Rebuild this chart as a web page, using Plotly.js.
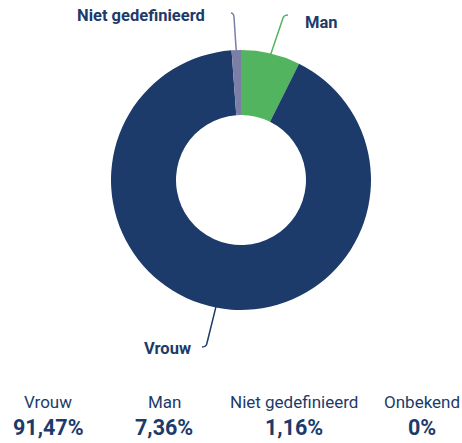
<!DOCTYPE html>
<html><head><meta charset="utf-8">
<script src="https://cdn.plot.ly/plotly-3.0.1.min.js"></script>
<style>html,body{margin:0;padding:0;background:#fff}#c{width:462px;height:443px}</style>
</head><body><div id="c"></div>
<script>
const categories = ["Man", "Vrouw", "Niet gedefinieerd", "Onbekend"];
const values = [7.36, 91.47, 1.16, 0];
const colors = ["#52b45f", "#1c3b6a", "#7b7fa6", "#cccccc"];
const summaryOrder = ["Vrouw", "Man", "Niet gedefinieerd", "Onbekend"];
const summaryText = ["91,47%", "7,36%", "1,16%", "0%"];

const W = 462, H = 443;
const FONT = "Roboto, sans-serif";
const NAVY = "#1c3b6a";
const cx = 241, cy = 180, R = 130;
const px = x => x / W, py = y => 1 - y / H;

const total = values.reduce((a, b) => a + b, 0);
function midAngle(i) {
  let s = 0; for (let k = 0; k < i; k++) s += values[k];
  return (s + values[i] / 2) / total * 2 * Math.PI;
}
function edge(i, r) {
  const a = midAngle(i);
  return [cx + r * Math.sin(a), cy - r * Math.cos(a)];
}

const leaders = [
  {i: 0, mid: [283, 18], end: [288, 15], lx: 303, ly: 22, anchor: "left"},
  {i: 2, mid: [234, 17], end: [231, 13], lx: 207, ly: 15, anchor: "right"},
  {i: 1, mid: [207, 343], end: [202, 347], lx: 193, ly: 348, anchor: "right"}
];
const shapes = [], annotations = [];
leaders.forEach(L => {
  const p = edge(L.i, R - 2);
  const col = colors[L.i];
  shapes.push({
    type: "path", xref: "paper", yref: "paper",
    path: `M ${px(p[0])},${py(p[1])} L ${px(L.mid[0])},${py(L.mid[1])} Q ${px(L.mid[0] + (L.anchor==="left"?1:-0.5))},${py(L.end[1])} ${px(L.end[0])},${py(L.end[1])}`,
    line: {color: col, width: 1.5}
  });
  annotations.push({
    text: "<b>" + categories[L.i] + "</b>", xref: "paper", yref: "paper",
    x: px(L.lx), y: py(L.ly), xanchor: L.anchor, yanchor: "middle", showarrow: false,
    font: {family: FONT, size: 16.5, color: NAVY}
  });
});

const colX = [48, 164, 294, 422];
summaryOrder.forEach((name, k) => {
  annotations.push({text: name, xref: "paper", yref: "paper", x: px(colX[k]), y: py(402),
    xanchor: "center", yanchor: "middle", showarrow: false,
    font: {family: FONT, size: 17, color: NAVY}});
  annotations.push({text: "<b>" + summaryText[k] + "</b>", xref: "paper", yref: "paper", x: px(colX[k]), y: py(427),
    xanchor: "center", yanchor: "middle", showarrow: false,
    font: {family: FONT, size: 21.5, color: NAVY}});
});

const data = [{
  type: "pie", labels: categories, values: values, sort: false, direction: "clockwise",
  rotation: 0, hole: 0.5, textinfo: "none", hoverinfo: "label+percent",
  marker: {colors: colors, line: {width: 0}},
  domain: {x: [px(cx - R), px(cx + R)], y: [py(cy + R), py(cy - R)]}
}];
const layout = {
  width: W, height: H, margin: {l: 0, r: 0, t: 0, b: 0},
  paper_bgcolor: "#fff", showlegend: false, shapes: shapes, annotations: annotations
};
Plotly.newPlot("c", data, layout, {displayModeBar: false, staticPlot: true});
</script></body></html>
